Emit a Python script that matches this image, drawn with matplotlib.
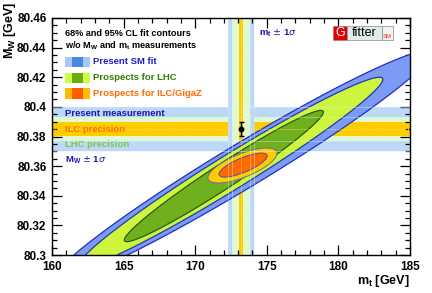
import numpy as np
import matplotlib
matplotlib.use("Agg")
import matplotlib.pyplot as plt
from matplotlib.patches import Rectangle, Polygon
from matplotlib.ticker import MultipleLocator, FormatStrFormatter

plt.rcParams['font.family'] = ['Liberation Sans', 'DejaVu Sans']

# ---------------- data ----------------
mt_range = [160, 185]
mw_range = [80.30, 80.46]

# measurement bands (centre, half-widths)
mt_meas = 173.2
mt_err_present = 0.9
mt_err_lhc = 0.6
mt_err_ilc = 0.15
mw_meas = 80.385
mw_err_present = 0.015
mw_err_lhc = 0.008
mw_err_ilc = 0.005
point_mw_err = 0.005

# fit contours: centre, half-extent in mt, half-extent in mw, correlation
contour_names = ['SM 95', 'LHC 95', 'LHC 68', 'ILC 95', 'ILC 68']
contour_mt = [173.3, 172.5, 172.0, 173.3, 173.34]
contour_mw = [80.360, 80.356, 80.3533, 80.3604, 80.3607]
contour_dmt = [13.2, 10.6, 6.95, 2.41, 1.68]
contour_dmw = [0.078, 0.064, 0.0443, 0.0118, 0.0081]
contour_rho = [0.975, 0.977, 0.975, 0.70, 0.76]

legend_labels = ['Present SM fit', 'Prospects for LHC', 'Prospects for ILC/GigaZ']
band_labels = ['Present measurement', 'ILC precision', 'LHC precision']

# ---------------- styles ----------------
c_blue_band = '#bdd7f8'
c_green_band = '#e0fad0'
c_yellow = '#ffcc00'
fills = ['#7b9bf4', '#ccf53c', '#70b01c', '#ffcc00', '#ff6a00']
edges = ['#2030c0', '#2438b0', '#2a5a10', '#6a6aa8', '#5050a0']
lws = [0.9, 0.9, 0.9, 0.7, 0.7]

W, H = 432, 293
fig = plt.figure(figsize=(W / 100, H / 100), dpi=100)
L, R, T, B = 52, 410, 18, 255
ax = fig.add_axes([L / W, 1 - B / H, (R - L) / W, (B - T) / H])
ax.set_xlim(*mt_range)
ax.set_ylim(*mw_range)


def ellipse(mt0, mw0, a, b, rho, n=400):
    t = np.linspace(0, 2 * np.pi, n)
    x = mt0 + a * np.cos(t)
    y = mw0 + b * (rho * np.cos(t) + np.sqrt(1 - rho ** 2) * np.sin(t))
    return np.column_stack([x, y])


# bands layered by colour
for err, col in [(mw_err_present, c_blue_band), (mw_err_lhc, c_green_band), (mw_err_ilc, c_yellow)]:
    ax.axhspan(mw_meas - err, mw_meas + err, color=col, lw=0, zorder=1)
for err, col in [(mt_err_present, c_blue_band), (mt_err_lhc, c_green_band), (mt_err_ilc, c_yellow)]:
    ax.axvspan(mt_meas - err, mt_meas + err, color=col, lw=0, zorder=1.1)

# contours
for i in range(len(contour_names)):
    pts = ellipse(contour_mt[i], contour_mw[i], contour_dmt[i], contour_dmw[i], contour_rho[i])
    ax.add_patch(Polygon(pts, closed=True, facecolor=fills[i], edgecolor=edges[i],
                         lw=lws[i], zorder=2 + i * 0.1))

# faint band lines on top
for err in [mt_err_present, mt_err_lhc]:
    for s in (-1, 1):
        ax.axvline(mt_meas + s * err, color='#d8ecff', lw=0.5, alpha=0.6, zorder=3)
for err in [mw_err_present, mw_err_lhc]:
    for s in (-1, 1):
        ax.axhline(mw_meas + s * err, color='#d8ecff', lw=0.5, alpha=0.6, zorder=3)
ax.axvline(mt_meas, color='#ffe680', lw=0.6, ls=':', zorder=3)
ax.axhline(mw_meas, color='#ffe680', lw=0.6, ls=':', zorder=3)

# measurement point
ax.errorbar([mt_meas], [mw_meas], yerr=[point_mw_err], fmt='o', color='black',
            ms=3.2, capsize=1.8, elinewidth=1.0, capthick=1.0, zorder=5)

# ticks
ax.xaxis.set_major_locator(MultipleLocator(5))
ax.xaxis.set_minor_locator(MultipleLocator(1))
ax.yaxis.set_major_locator(MultipleLocator(0.02))
ax.yaxis.set_minor_locator(MultipleLocator(0.005))
ax.yaxis.set_major_formatter(FormatStrFormatter('%g'))
ax.tick_params(which='both', direction='in', top=True, right=True, width=0.9,
               labelsize=8.5, colors='black')
ax.tick_params(which='major', length=7, pad=4)
ax.tick_params(which='minor', length=3.5)
for lab in ax.get_xticklabels() + ax.get_yticklabels():
    lab.set_fontweight('bold')
for sp in ax.spines.values():
    sp.set_linewidth(1.0)
    sp.set_zorder(6)

fig.text(R / W, 1 - 281 / H, r'm$_\mathregular{t}$ [GeV]', fontsize=9, fontweight='bold',
         ha='right', va='center')
fig.text(9.5 / W, 1 - 2 / H, r'M$_\mathregular{W}$ [GeV]', fontsize=9, fontweight='bold',
         ha='center', va='top', rotation=90)


def fx(px):
    return (px - L) / (R - L)


def fy(py):
    return (B - py) / (B - T)


tk = dict(transform=ax.transAxes, fontweight='bold', zorder=8)
ax.text(fx(65), fy(34), '68% and 95% CL fit contours', fontsize=6.6, va='center', ha='left', **tk)
ax.text(fx(65), fy(46), r'w/o M$_\mathregular{W}$ and m$_\mathregular{t}$ measurements',
        fontsize=6.6, va='center', ha='left', **tk)

swatches = [('#a6c8f3', '#4a88e0', 62, '#1e1ec8'),
            ('#ccff44', '#6aab12', 78, '#2e7d00'),
            ('#ffbb00', '#ff5a00', 93.5, '#ff6a00')]
for (outer, inner, yc, tcol), lab in zip(swatches, legend_labels):
    ax.add_patch(Rectangle((fx(65), fy(yc + 5.2)), fx(90) - fx(65), fy(yc - 5.2) - fy(yc + 5.2),
                           transform=ax.transAxes, facecolor=outer, lw=0, zorder=8))
    ax.add_patch(Rectangle((fx(72), fy(yc + 5.2)), fx(83) - fx(72), fy(yc - 5.2) - fy(yc + 5.2),
                           transform=ax.transAxes, facecolor=inner, lw=0, zorder=8))
    ax.text(fx(93), fy(yc), lab, fontsize=6.8, color=tcol, va='center', ha='left', **tk)

ax.text(fx(65), fy(114), band_labels[0], fontsize=6.8, color='#1a1aa8', va='center', ha='left', **tk)
ax.text(fx(65), fy(129.5), band_labels[1], fontsize=6.8, color='#ff7000', va='center', ha='left', **tk)
ax.text(fx(65), fy(144.5), band_labels[2], fontsize=6.8, color='#80c840', va='center', ha='left', **tk)
ax.text(fx(65), fy(160.5), r'M$_\mathregular{W}$ $\pm$ 1$\sigma$', fontsize=6.8, color='#1a1aa8',
        va='center', ha='left', **tk)
ax.text(fx(259), fy(33), r'm$_\mathregular{t}$ $\pm$ 1$\sigma$', fontsize=6.8, color='#1a1aa8',
        va='center', ha='left', **tk)

# Gfitter logo
ax.add_patch(Rectangle((fx(333), fy(40)), fx(347) - fx(333), fy(26) - fy(40), transform=ax.transAxes,
                       facecolor='#e00000', edgecolor='#888888', lw=0.5, zorder=8))
ax.text(fx(340), fy(33.3), 'G', fontsize=9, color='white', ha='center', va='center',
        transform=ax.transAxes, zorder=9)
ax.add_patch(Rectangle((fx(347), fy(40)), fx(382) - fx(347), fy(26) - fy(40), transform=ax.transAxes,
                       facecolor='#e2ece6', edgecolor='#888888', lw=0.5, zorder=8))
ax.text(fx(364.5), fy(33), 'fitter', fontsize=9, color='black', ha='center', va='center',
        transform=ax.transAxes, zorder=9)
ax.add_patch(Rectangle((fx(382), fy(40)), fx(393) - fx(382), fy(26) - fy(40), transform=ax.transAxes,
                       facecolor='#f2f2f2', edgecolor='#888888', lw=0.5, zorder=8))
ax.text(fx(387.5), fy(36), 'SM', fontsize=4.2, color='#ff2020', ha='center', va='center',
        transform=ax.transAxes, zorder=9)

fig.savefig('out.png', dpi=100)
